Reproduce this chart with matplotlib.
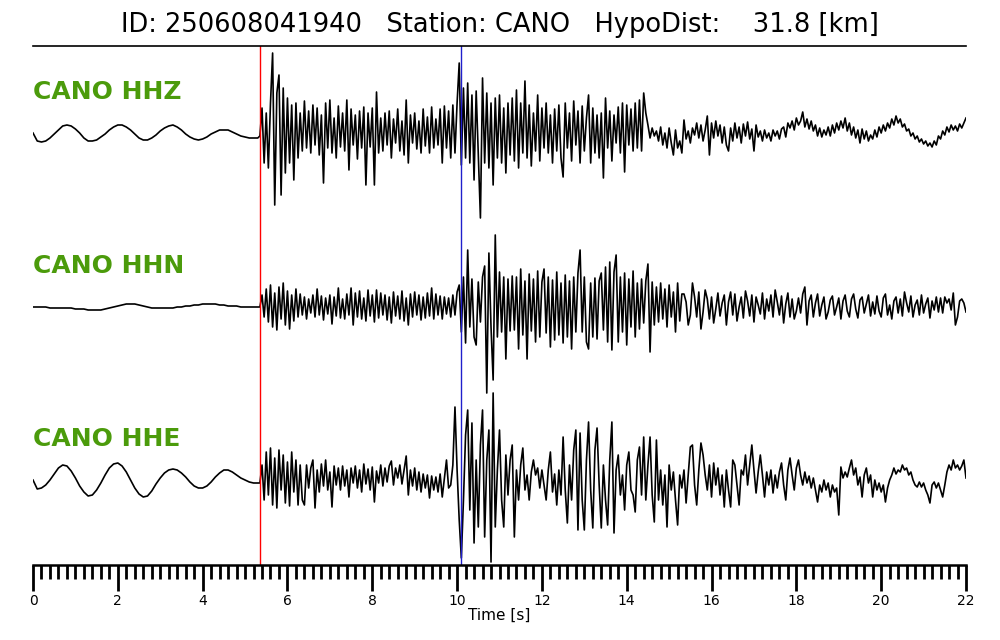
import numpy as np
import matplotlib
matplotlib.use('Agg')
import matplotlib.pyplot as plt

event_id = '250608041940'
station = 'CANO'
hypo_dist = 31.8
channels = ['HHZ', 'HHN', 'HHE']

p_pick = 5.35   # red
s_pick = 10.09  # blue

# samples before the P arrival, every 0.1 s from 0.0 s
dt_pre = 0.1
hhz_pre = [0, -8, -9, -8, -5, -1, 3, 7, 8, 7,
           4, 0, -5, -8, -8, -7, -4, -1, 3, 6,
           8, 8, 6, 3, -1, -5, -7, -7, -5, -2,
           2, 5, 7, 8, 6, 3, -1, -4, -6, -7,
           -6, -4, -1, 1, 3, 3, 3, 1, -1, -3,
           -4, -5, -5, -5]
hhn_pre = [0, 0, 0, 0, -1, -1, -1, -1, -1, -1,
           -2, -2, -2, -3, -3, -3, -3, -2, -1, 0,
           1, 2, 3, 3, 3, 2, 1, 0, -1, -1,
           -1, -1, -1, -1, 0, 0, 1, 1, 2, 2,
           3, 3, 3, 3, 2, 2, 1, 1, 1, 0,
           0, 0, 0, 0]
hhe_pre = [0, -9, -8, -5, 0, 6, 12, 15, 14, 9,
           2, -6, -12, -16, -15, -10, -3, 5, 12, 16,
           17, 14, 8, 0, -8, -14, -17, -16, -11, -4,
           2, 7, 10, 11, 10, 7, 3, -2, -6, -8,
           -8, -6, -2, 3, 7, 10, 10, 8, 5, 2,
           0, -2, -3, -3]

# samples from the P arrival on, every 0.05 s from 5.35 s to 22.0 s
dt_evt = 0.05
hhz_evt = [
    -3, 25, -30, 20, -35, 30, 80, -72, 40, 58, -62, 45, -40, 35, -30, 28, -47, 30, -25, 20,
    -18, 32, -15, 22, -20, 28, -12, 25, -22, 18, -50, 30, -15, 33, -20, 15, -25, 27, -14, 20,
    -18, 33, -37, 24, -12, 18, -26, 22, -15, 26, -52, 20, -14, 25, -52, 41, -20, 15, -18, 20,
    -12, 22, -25, 14, -10, 24, -18, 12, -22, 33, -30, 18, -10, 20, -16, 12, -20, 24, -13, 16,
    -20, 26, -15, 14, -12, 24, -30, 27, -15, 22, -25, 28, -20, 30, 70, -32, 45, -25, 50, -30,
    38, -47, 42, -20, -85, 55, -30, 40, -35, 30, -52, 35, -25, 38, -30, 25, -40, 30, -22, 35,
    -28, 43, -35, 30, -20, 52, -25, 28, -33, 20, -18, 38, -28, 25, -15, 30, -20, 18, -30, 24,
    -18, 28, -25, -44, 30, -15, 20, -28, 32, -12, 22, -30, 27, -18, 15, 38, -30, 25, -20, 18,
    -25, 20, -45, 35, -15, 22, -28, 18, -10, 26, -20, 30, -39, 28, -12, 24, -18, 30, -15, 33,
    -18, 40, 20, 8, -5, 5, -3, 2, -8, 6, -12, 0, -15, 5, -10, -22, 3, -15, -8, -20,
    13, -6, 2, -10, 5, -2, 10, -5, 8, -8, 3, 17, -22, 10, -5, 12, -3, 8, -10, 6,
    -12, -18, 5, -8, 10, -5, 6, -10, 9, -3, 11, -6, 4, -18, 8, -4, 2, -8, 3, -5,
    0, -8, 3, -3, 2, -6, 4, 6, -4, 10, 5, 12, 3, 15, 8, 12, 21, 6, 14, 4,
    12, 2, 8, -3, 5, -4, 3, -2, 6, -3, 8, 0, 10, 3, 12, 5, 15, 2, 10, -2,
    6, -5, 3, -10, 4, -6, 2, -8, -2, -6, 3, -4, 6, 0, 8, 2, 10, 5, 14, 8,
    17, 10, 14, 6, 9, 2, 4, -3, 0, -6, -3, -9, -6, -11, -8, -13, -10, -14, -8, -12,
    -3, -6, 2, -2, 6, 1, 8, 3, 7, 2, 9, 5, 10, 15]
hhn_evt = [
    0, 12, -10, 18, -15, 22, -20, 14, -23, 20, -12, 24, -18, 16, -22, 12, -14, 18, -10, 13,
    -8, 10, -12, 8, -6, 12, -10, 18, -8, 11, -13, 9, -7, 12, -17, 10, -9, 19, -11, 8,
    -12, 13, -8, 19, -18, 14, -10, 16, -12, 9, -14, 17, -9, 12, -15, 17, -11, 14, -8, 12,
    -13, 10, -16, 15, -9, 11, -12, 16, -14, 9, -18, 13, -10, 15, -8, 12, -13, 10, -11, 14,
    -9, 19, -12, 13, -8, 11, -12, 10, -7, 9, -10, 12, -8, 15, 22, -25, 30, -36, 57, -20,
    28, -30, -38, 25, -15, 30, 41, -86, 54, -20, -73, 72, -30, 35, -25, 30, -52, 28, -24, 31,
    -23, 30, -42, 38, -28, 26, -52, 33, -24, 28, -35, 36, -30, 25, 38, -26, 30, -40, 27, -33,
    35, -28, 24, -36, 32, -30, 26, -42, 30, -25, 34, 57, -25, 30, -35, -42, 24, -30, 29, -32,
    26, 34, -23, 40, -35, 45, -43, 35, 52, -35, 30, -25, 34, -38, 28, -20, 36, -30, 24, -22,
    28, -16, 26, 43, -45, 25, -18, 20, -15, 24, -12, 18, -20, 22, -10, 15, -25, 24, -14, 13,
    13, 5, -18, -8, 24, 10, -10, 15, -22, -5, 17, 8, -12, 10, -16, -2, 14, -9, 4, 12,
    -18, 5, 15, -8, 13, -14, 0, 10, -11, 16, 6, -9, 12, -15, 10, 2, -7, 14, -12, 8,
    -4, 12, -10, 17, 5, -8, 11, -16, 3, 14, -10, 8, -12, -4, 9, -6, 13, 20, -18, 6,
    12, -10, 4, 13, -9, 2, 10, -12, -5, 7, 11, -8, 0, 9, -12, 6, 12, -4, -10, 8,
    13, -2, -11, 7, 10, -6, 3, 12, -9, 5, -7, 11, -4, -10, 9, 13, -8, 2, -12, 6,
    10, -6, 8, -9, 15, 4, -5, 11, -10, 2, 7, -8, 12, -6, 3, 9, -11, 6, -3, 10,
    -5, 9, -6, 10, 4, 8, -3, 14, -18, -10, 6, 8, 4, -5]
hhe_evt = [
    -3, 15, -20, 28, -15, 32, -25, 22, -28, 30, -10, 25, -23, 18, -26, 28, -12, 20, -25, 15,
    -20, -25, 15, -8, 12, 20, -28, 10, -12, 16, -6, 20, -10, 8, -27, 14, -5, 12, -10, 14,
    -6, 10, -17, 12, -3, 14, -8, 10, -12, 16, -4, 11, -10, 13, -22, 9, -3, 15, -6, 12,
    -2, 14, 19, -5, 12, 2, 15, -4, 10, 24, -15, 10, -6, 12, -10, 8, -12, 6, -8, 5,
    -18, 4, -10, 3, -12, 6, -17, 2, 20, -8, -5, 15, 73, 10, -40, -78, -20, 45, 70, -30,
    57, -63, 20, -47, 35, 70, -57, 20, 50, -82, 87, -47, 10, 50, -20, -47, 25, -15, 20, 35,
    -57, 10, -20, 15, 32, -10, 5, -20, 8, 20, 5, 12, -8, 10, -5, -20, 10, 28, -12, 6,
    -25, 10, -15, 43, -10, -43, 15, -20, 30, 50, -50, 47, -20, -50, 20, 58, -10, -48, 30, 52,
    -5, -48, 15, -20, -45, 20, 58, -53, 10, 25, -15, 5, -30, 15, 28, -10, -15, -32, 20, 33,
    -15, 43, -20, 15, 43, -15, -42, 40, -20, 10, -25, 5, -47, 15, -10, 8, -20, -45, 5, -8,
    10, -23, 5, 33, 35, -5, -25, 10, 37, 25, 5, -10, 15, -17, 17, -5, 12, -15, 5, -27,
    10, -10, -27, 20, 15, -5, -25, 10, 5, 25, -5, 15, 35, 10, -13, 8, 25, 5, -17, 8,
    -5, 10, -13, 5, -8, 8, 17, -5, -20, 10, 22, 5, -10, 12, 20, 5, -5, 8, -3, 4,
    -8, 2, -10, -22, -5, -12, 0, -10, -3, -17, -5, -12, -8, -35, 13, 2, 8, 3, 12, 20,
    5, 12, -5, 3, -17, 5, 12, -3, 5, -17, 0, -10, -3, -12, -5, -22, -8, 0, 5, 12,
    6, 10, 8, 15, 10, 12, 5, 8, 0, -5, -7, -2, -7, -3, -10, -15, -23, -5, -2, -8,
    -3, -10, -17, -5, 8, 15, 10, 20, 12, 15, 10, 14, 20, 2]

pre = [hhz_pre, hhn_pre, hhe_pre]
evt = [hhz_evt, hhn_evt, hhe_evt]
baselines = [432, 258, 85]

fig = plt.figure(figsize=(10, 6.4), dpi=100)
ax = fig.add_axes([0.033, 0.11719, 0.933, 0.81094])

for ch, a, b, y0 in zip(channels, pre, evt, baselines):
    t_pre = np.arange(len(a)) * dt_pre
    t_evt = p_pick + np.arange(len(b)) * dt_evt
    t = np.concatenate([t_pre, t_evt])
    y = y0 + np.concatenate([np.array(a), np.array(b)])
    ax.plot(t, y, color='black', lw=1.2)
    ax.text(0.0, y0 + 41, station + ' ' + ch, color='#4b9b0b', fontsize=18,
            fontweight='bold', ha='left', va='center')

ax.axvline(p_pick, color='red', lw=1.0)
ax.axvline(s_pick, color='#2020cc', lw=1.0)

ax.set_xlim(0, 22)
ax.set_ylim(0, 519)
ax.set_yticks([])
ax.set_xticks(np.arange(0, 23, 2))
ax.set_xticks(np.arange(0, 22.01, 0.2), minor=True)
ax.tick_params(axis='x', which='major', length=19, width=2.0, labelsize=10, pad=2)
ax.tick_params(axis='x', which='minor', length=10, width=2.0)
for s in ['left', 'right']:
    ax.spines[s].set_visible(False)
ax.spines['top'].set_linewidth(1.2)
ax.spines['bottom'].set_linewidth(1.8)
ax.set_xlabel('Time [s]', fontsize=11, labelpad=0)

fig.text(0.5, 1 - 25 / 640,
         'ID: %s   Station: %s   HypoDist: %7.1f [km]' % (event_id, station, hypo_dist),
         ha='center', va='center', fontsize=18.5)

fig.savefig('out.png', dpi=100)
